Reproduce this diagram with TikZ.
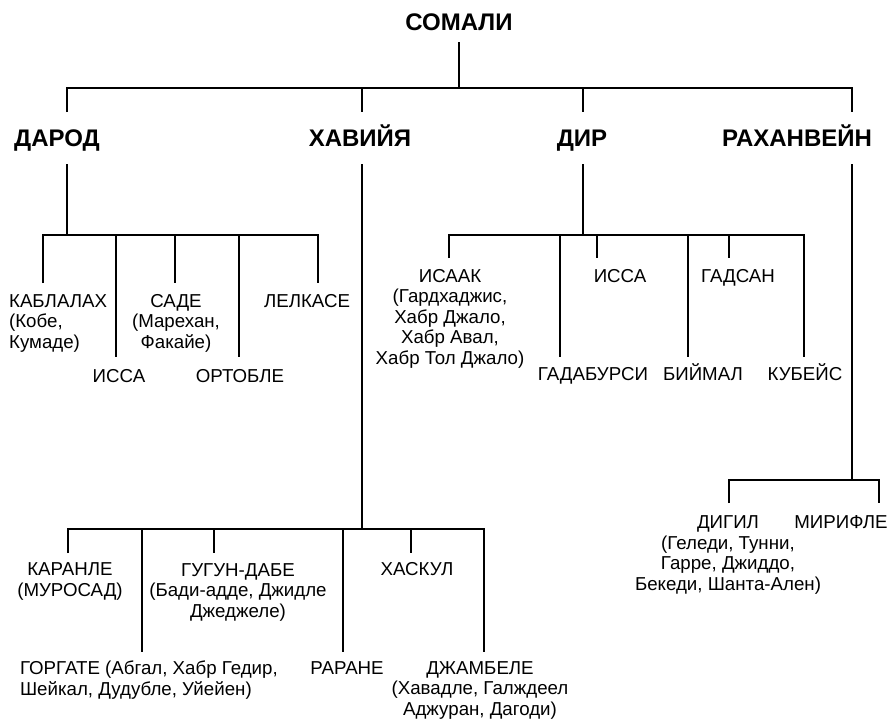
\documentclass[tikz,border=0pt]{standalone}
\usepackage{fontspec}
\setmainfont{Liberation Sans}

\begin{document}
\begin{tikzpicture}[x=1pt,y=-1pt,line width=2.2pt,
  clan/.style={font=\bfseries\fontsize{24}{28}\selectfont,anchor=base,inner sep=0pt},
  sub/.style={font=\fontsize{18.7}{20.5}\selectfont,anchor=base,inner sep=0pt,align=center}]
\useasboundingbox (0,0) rectangle (891,718);

\node[clan] (somali) at (459,30) {СОМАЛИ};
\coordinate (somali-out) at (459,42);
\coordinate (top-bar) at (459,88);

\node[clan] (darod) at (57,146) {ДАРОД};
\node[clan] (khaviya) at (360,146) {ХАВИЙЯ};
\node[clan] (dir) at (582,146) {ДИР};
\node[clan] (rakh) at (797,146) {РАХАНВЕЙН};
\foreach \c/\x in {darod/67,khaviya/362,dir/583,rakh/852}{
  \coordinate (\c-in) at (\x,112);
  \coordinate (\c-out) at (\x,164);
}

\draw (somali-out) -- (top-bar);
\draw (darod-in) |- (top-bar) -| (rakh-in);
\foreach \c in {khaviya,dir} \draw (\c-in |- top-bar) -- (\c-in);

\node[sub,anchor=base west,align=left] (kablalakh) at (8,348) {КАБЛАЛАХ\\(Кобе,\\Кумаде)};
\node[sub] (issaA) at (119,382) {ИССА};
\node[sub] (sade) at (176,348) {САДЕ\\(Марехан,\\Факайе)};
\node[sub] (ortoble) at (240,382) {ОРТОБЛЕ};
\node[sub] (lelkase) at (307,307) {ЛЕЛКАСЕ};
\coordinate (darod-bar) at (67,235);
\foreach \c/\x/\y in {kablalakh/43/283,issaA/116/357,sade/175/283,ortoble/239/357,lelkase/318/283}
  \coordinate (\c-in) at (\x,\y);

\draw (darod-out) -- (darod-bar);
\draw (kablalakh-in) |- (darod-bar) -| (lelkase-in);
\foreach \c in {issaA,sade,ortoble} \draw (\c-in |- darod-bar) -- (\c-in);

\node[sub] (karanle) at (70,596) {КАРАНЛЕ\\(МУРОСАД)};
\node[sub] (gugun) at (238,617) {ГУГУН-ДАБЕ\\(Бади-адде, Джидле\\Джеджеле)};
\node[sub] (khaskul) at (417,575) {ХАСКУЛ};
\node[sub,anchor=base west,align=left] (gorgate) at (19,695) {ГОРГАТЕ (Абгал, Хабр Гедир,\\Шейкал, Дудубле, Уйейен)};
\node[sub] (rarane) at (347,674) {РАРАНЕ};
\node[sub] (dzhambele) at (480,715) {ДЖАМБЕЛЕ\\(Хавадле, Галждеел\\Аджуран, Дагоди)};
\coordinate (khaviya-bar) at (362,529);
\foreach \c/\x/\y in {karanle/68/553,gorgate/142/652,gugun/214/553,rarane/343/652,khaskul/411/553,dzhambele/484/652}
  \coordinate (\c-in) at (\x,\y);

\draw (khaviya-out) -- (khaviya-bar);
\draw (karanle-in) |- (khaviya-bar) -| (dzhambele-in);
\foreach \c in {gorgate,gugun,rarane,khaskul} \draw (\c-in |- khaviya-bar) -- (\c-in);

\node[sub] (isaak) at (450,364) {ИСААК\\(Гардхаджис,\\Хабр Джало,\\Хабр Авал,\\Хабр Тол Джало)};
\node[sub] (issaB) at (620,282) {ИССА};
\node[sub] (gadsan) at (738,282) {ГАДСАН};
\node[sub] (gadabursi) at (593,380) {ГАДАБУРСИ};
\node[sub] (biymal) at (703,380) {БИЙМАЛ};
\node[sub] (kubeys) at (805,380) {КУБЕЙС};
\coordinate (dir-bar) at (583,235);
\foreach \c/\x/\y in {isaak/449/258,gadabursi/560/357,issaB/597/258,biymal/688/357,gadsan/729/258,kubeys/804/357}
  \coordinate (\c-in) at (\x,\y);

\draw (dir-out) -- (dir-bar);
\draw (isaak-in) |- (dir-bar) -| (kubeys-in);
\foreach \c in {gadabursi,issaB,biymal,gadsan} \draw (\c-in |- dir-bar) -- (\c-in);

\node[sub] (digil) at (728,590) {ДИГИЛ\\(Геледи, Тунни,\\Гарре, Джиддо,\\Бекеди, Шанта-Ален)};
\node[sub] (mirifle) at (841,528) {МИРИФЛЕ};
\coordinate (rakh-bar) at (852,480);
\coordinate (digil-in) at (729,503);
\coordinate (mirifle-in) at (879,503);

\draw (rakh-out) -- (rakh-bar);
\draw (digil-in) |- (rakh-bar) -| (mirifle-in);
\end{tikzpicture}
\end{document}
